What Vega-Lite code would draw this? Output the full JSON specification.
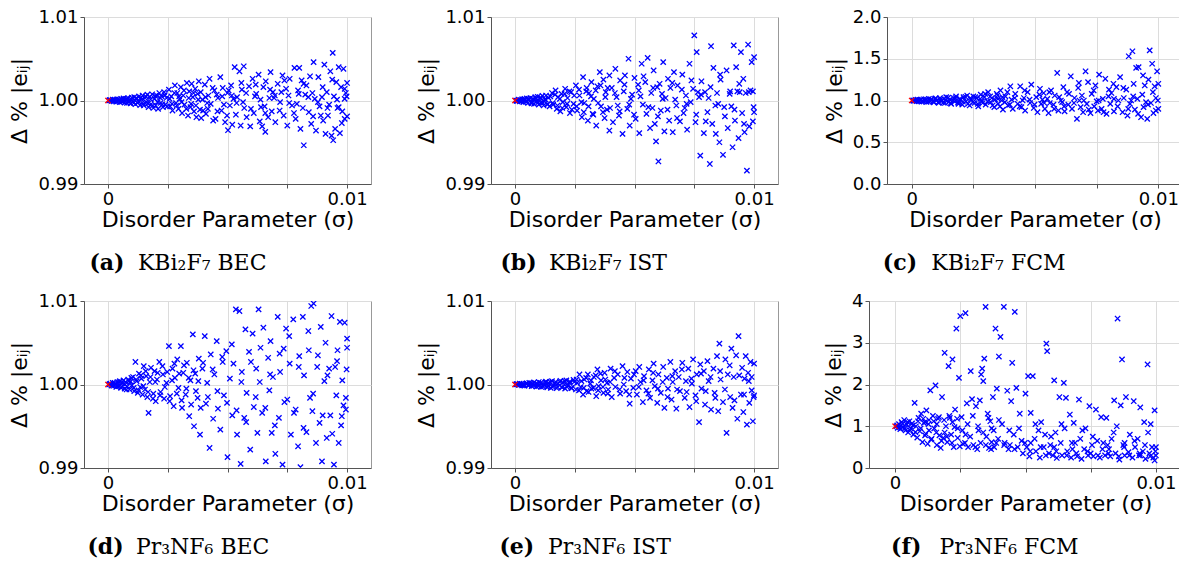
{
"$schema":"https://vega.github.io/schema/vega-lite/v6.json",
"padding":{"left":8,"top":7,"right":0,"bottom":0},
"background":"white",
"config":{
"view":{"stroke":"#999","strokeWidth":1},
"axis":{"labelFont":"DejaVu Sans","labelFontSize":18,"labelColor":"#000","titleFont":"DejaVu Sans","titleFontSize":22,"titleFontWeight":"normal","titleColor":"#000","tickColor":"#555","tickSize":4,"domainColor":"#555","gridColor":"#dcdcdc","labelPadding":2,"grid":true},
"axisX":{"titlePadding":1},
"axisY":{"titlePadding":6},
"title":{"font":"DejaVu Serif","fontSize":22,"fontWeight":"normal","color":"#000","orient":"bottom"}
},
"datasets":{
"ref":[{"x":0,"y":1}],
"a":[{"x":0.00005,"y":1},{"x":0.0001,"y":1.00005},{"x":0.00015,"y":0.99995},{"x":0.0002,"y":1.0001},{"x":0.00025,"y":0.9999},{"x":0.0003,"y":1.00005},{"x":0.00035,"y":0.99985},{"x":0.0004,"y":1.00015},{"x":0.00045,"y":1},{"x":0.0005,"y":0.9998},{"x":0.00055,"y":1.0002},{"x":0.0006,"y":0.9999},{"x":0.00065,"y":1.00025},{"x":0.0007,"y":0.99975},{"x":0.00075,"y":1.0001},{"x":0.0008,"y":0.9997},{"x":0.00085,"y":1.0003},{"x":0.0009,"y":1},{"x":0.00095,"y":0.99965},{"x":0.001,"y":1.00035},{"x":0.00105,"y":0.99985},{"x":0.0011,"y":1.0004},{"x":0.00115,"y":0.99955},{"x":0.0012,"y":1.0002},{"x":0.00125,"y":0.9997},{"x":0.0013,"y":1.0005},{"x":0.00135,"y":0.99945},{"x":0.0014,"y":1.0001},{"x":0.00145,"y":1.0006},{"x":0.0015,"y":0.9994},{"x":0.00155,"y":1.0003},{"x":0.0016,"y":0.9998},{"x":0.00165,"y":1.0007},{"x":0.0017,"y":0.9992},{"x":0.00175,"y":1.00045},{"x":0.0018,"y":0.99955},{"x":0.00185,"y":1.00075},{"x":0.0019,"y":0.9991},{"x":0.00195,"y":1.0002},{"x":0.002,"y":0.9994},{"x":0.00205,"y":1.0006},{"x":0.0021,"y":0.999},{"x":0.00215,"y":1.0009},{"x":0.0022,"y":0.9997},{"x":0.00225,"y":1.0005},{"x":0.0023,"y":0.9992},{"x":0.00235,"y":1.001},{"x":0.0024,"y":0.9995},{"x":0.00245,"y":1.0003},{"x":0.00255,"y":1.0013},{"x":0.0026,"y":0.9993},{"x":0.00265,"y":1.0005},{"x":0.0027,"y":0.9988},{"x":0.0028,"y":1.0018},{"x":0.00285,"y":0.9997},{"x":0.0029,"y":1.0009},{"x":0.00295,"y":0.999},{"x":0.003,"y":1.0002},{"x":0.00305,"y":1.0016},{"x":0.0031,"y":0.9985},{"x":0.00315,"y":1.0006},{"x":0.0032,"y":0.9995},{"x":0.0033,"y":1.0021},{"x":0.00335,"y":0.9982},{"x":0.0034,"y":1.0011},{"x":0.00345,"y":0.9992},{"x":0.0035,"y":1.002},{"x":0.00355,"y":1.0004},{"x":0.0036,"y":0.9987},{"x":0.00365,"y":1.0014},{"x":0.0037,"y":0.998},{"x":0.00375,"y":1.0008},{"x":0.0038,"y":1.0023},{"x":0.00385,"y":0.9989},{"x":0.0039,"y":0.9979},{"x":0.00395,"y":1.0001},{"x":0.00405,"y":1.0019},{"x":0.0041,"y":0.9984},{"x":0.0042,"y":1.0006},{"x":0.00425,"y":1.0026},{"x":0.0043,"y":0.9996},{"x":0.0044,"y":0.9976},{"x":0.00445,"y":1.0012},{"x":0.0045,"y":0.9978},{"x":0.0046,"y":1.0003},{"x":0.0047,"y":1.0028},{"x":0.00475,"y":0.9988},{"x":0.0048,"y":1.0015},{"x":0.0049,"y":0.9974},{"x":0.005,"y":1.0009},{"x":0.00502,"y":0.99644},{"x":0.00505,"y":1.0012},{"x":0.0051,"y":0.9994},{"x":0.00515,"y":1.0018},{"x":0.0052,"y":0.9971},{"x":0.0053,"y":1.004},{"x":0.00535,"y":0.9983},{"x":0.0054,"y":1.0004},{"x":0.0055,"y":1.0035},{"x":0.00555,"y":0.997},{"x":0.0056,"y":1.0013},{"x":0.00568,"y":1.0041},{"x":0.0057,"y":0.9991},{"x":0.0058,"y":0.998},{"x":0.0059,"y":1.0017},{"x":0.00595,"y":0.9969},{"x":0.00605,"y":1.0026},{"x":0.0061,"y":0.9985},{"x":0.0062,"y":1.0008},{"x":0.0063,"y":1.0031},{"x":0.00635,"y":0.9975},{"x":0.00645,"y":0.9969},{"x":0.0065,"y":1.0016},{"x":0.00655,"y":0.9993},{"x":0.00658,"y":0.99624},{"x":0.0066,"y":1.0023},{"x":0.0067,"y":0.998},{"x":0.00675,"y":1.0003},{"x":0.0068,"y":1.0034},{"x":0.00685,"y":0.9987},{"x":0.0069,"y":1.001},{"x":0.007,"y":0.9974},{"x":0.0071,"y":1.002},{"x":0.0072,"y":0.9998},{"x":0.0073,"y":1.003},{"x":0.00735,"y":0.9982},{"x":0.00745,"y":1.0014},{"x":0.0075,"y":0.997},{"x":0.0076,"y":1.0026},{"x":0.0077,"y":0.9994},{"x":0.0078,"y":1.0039},{"x":0.00785,"y":0.9978},{"x":0.00795,"y":1.0012},{"x":0.008,"y":1.0039},{"x":0.00805,"y":0.9966},{"x":0.0081,"y":1.0024},{"x":0.00819,"y":0.99464},{"x":0.00825,"y":1.0007},{"x":0.0083,"y":1.0018},{"x":0.0084,"y":0.9986},{"x":0.00845,"y":1.0029},{"x":0.0085,"y":0.9972},{"x":0.0086,"y":1.0046},{"x":0.00865,"y":1.0002},{"x":0.0087,"y":0.9964},{"x":0.0088,"y":1.0028},{"x":0.00885,"y":0.9993},{"x":0.0089,"y":0.9982},{"x":0.009,"y":0.9976},{"x":0.00905,"y":1.0043},{"x":0.0091,"y":0.996},{"x":0.00915,"y":1.001},{"x":0.0092,"y":0.9982},{"x":0.0093,"y":1.0035},{"x":0.00935,"y":0.9958},{"x":0.0094,"y":1.0057},{"x":0.00942,"y":0.99524},{"x":0.00945,"y":1.0005},{"x":0.0095,"y":0.9966},{"x":0.00955,"y":1.0022},{"x":0.0096,"y":0.9991},{"x":0.00965,"y":1.004},{"x":0.0097,"y":0.9961},{"x":0.00975,"y":1.0016},{"x":0.0098,"y":0.9987},{"x":0.00985,"y":1.0038},{"x":0.0099,"y":0.9978},{"x":0.00995,"y":1.0009},{"x":0.01,"y":0.9981},{"x":0.01,"y":1.0021},{"x":0.0099,"y":1.0014},{"x":0.00415,"y":0.9997},{"x":0.00455,"y":1.0007},{"x":0.00485,"y":0.9995},{"x":0.00525,"y":1.0002},{"x":0.00565,"y":0.9998},{"x":0.00615,"y":1.0005},{"x":0.0064,"y":0.9992},{"x":0.00695,"y":1.0003},{"x":0.00725,"y":1.001},{"x":0.00755,"y":1.0006},{"x":0.0079,"y":0.9996},{"x":0.00815,"y":0.9991},{"x":0.00855,"y":1.0009},{"x":0.00895,"y":1.0004},{"x":0.00925,"y":0.9995},{"x":0.00965,"y":0.9992},{"x":0.0099,"y":1.0002},{"x":0.00008,"y":1.00005},{"x":0.00018,"y":0.99995},{"x":0.00028,"y":1.0001},{"x":0.00038,"y":0.9999},{"x":0.00048,"y":1.00012},{"x":0.00058,"y":0.99985},{"x":0.00068,"y":1.00005},{"x":0.00078,"y":1.0002},{"x":0.00088,"y":0.9998},{"x":0.00098,"y":1.0001},{"x":0.00108,"y":0.9997},{"x":0.00118,"y":1.0003},{"x":0.00128,"y":0.9999},{"x":0.00138,"y":1.00035},{"x":0.00148,"y":0.9996},{"x":0.00158,"y":1.0005},{"x":0.00168,"y":0.99965},{"x":0.00178,"y":1.00015},{"x":0.00188,"y":0.9994},{"x":0.00198,"y":1.00055},{"x":0.00208,"y":0.9998},{"x":0.00218,"y":1.00035},{"x":0.00228,"y":0.99955},{"x":0.00238,"y":1.00065},{"x":0.00248,"y":0.9993},{"x":0.00258,"y":1.0002},{"x":0.00268,"y":0.9996},{"x":0.00278,"y":1.0009},{"x":0.00288,"y":0.9994},{"x":0.00298,"y":1.0005},{"x":0.00308,"y":0.9998},{"x":0.00318,"y":1.0012},{"x":0.00328,"y":0.999},{"x":0.00338,"y":1.0003},{"x":0.00348,"y":0.9996},{"x":0.00358,"y":1.0009},{"x":0.00368,"y":0.9994},{"x":0.00378,"y":1.0001},{"x":0.00388,"y":1.001},{"x":0.00398,"y":0.9988},{"x":0.00408,"y":1.0004},{"x":0.00418,"y":0.999},{"x":0.00438,"y":1.0015},{"x":0.00458,"y":0.9987},{"x":0.00478,"y":1.0005},{"x":0.00498,"y":0.9982},{"x":0.00518,"y":1.0006},{"x":0.00538,"y":0.9997},{"x":0.00558,"y":1.0021},{"x":0.00578,"y":1.0009},{"x":0.00598,"y":0.999},{"x":0.00618,"y":1.0019},{"x":0.00638,"y":1.0001},{"x":0.00658,"y":0.9985},{"x":0.00678,"y":1.0013},{"x":0.00698,"y":1.0006},{"x":0.00718,"y":0.9988},{"x":0.00738,"y":1.0024},{"x":0.00758,"y":0.9997},{"x":0.00778,"y":0.9985},{"x":0.00798,"y":1.0008},{"x":0.00818,"y":1.002},{"x":0.00838,"y":1.0004},{"x":0.00858,"y":0.9981},{"x":0.00878,"y":0.9998},{"x":0.00898,"y":1.0016},{"x":0.00918,"y":0.9991},{"x":0.00938,"y":1.0025},{"x":0.00958,"y":1.0001},{"x":0.00978,"y":0.9973},{"x":0.00998,"y":1.0005}],
"b":[{"x":0.00005,"y":1},{"x":0.0001,"y":0.99995},{"x":0.00015,"y":1.0001},{"x":0.0002,"y":0.9999},{"x":0.00025,"y":1.00005},{"x":0.0003,"y":1.00015},{"x":0.00035,"y":0.9998},{"x":0.0004,"y":1.0002},{"x":0.00045,"y":0.99985},{"x":0.0005,"y":1.00025},{"x":0.00055,"y":0.9997},{"x":0.0006,"y":1.0001},{"x":0.00065,"y":1.0003},{"x":0.0007,"y":0.99965},{"x":0.00075,"y":1.0002},{"x":0.0008,"y":0.9996},{"x":0.00085,"y":1.0004},{"x":0.0009,"y":0.9999},{"x":0.00095,"y":1.00045},{"x":0.001,"y":0.9995},{"x":0.00105,"y":1.0003},{"x":0.0011,"y":0.99975},{"x":0.00115,"y":1.00055},{"x":0.0012,"y":0.9994},{"x":0.00125,"y":1.00015},{"x":0.0013,"y":1.0006},{"x":0.00135,"y":0.99955},{"x":0.0014,"y":1.00035},{"x":0.00145,"y":0.9993},{"x":0.00155,"y":1.0009},{"x":0.0016,"y":0.9995},{"x":0.0017,"y":1.0012},{"x":0.00175,"y":0.999},{"x":0.0018,"y":1.0004},{"x":0.0019,"y":0.9987},{"x":0.00195,"y":1.0008},{"x":0.002,"y":0.9998},{"x":0.0021,"y":1.0014},{"x":0.00215,"y":0.9992},{"x":0.0022,"y":1.0003},{"x":0.0023,"y":0.9985},{"x":0.00235,"y":1.001},{"x":0.00245,"y":0.9996},{"x":0.00255,"y":1.0018},{"x":0.0026,"y":0.9988},{"x":0.0027,"y":1.0006},{"x":0.0028,"y":0.998},{"x":0.00285,"y":1.0028},{"x":0.0029,"y":0.9997},{"x":0.003,"y":1.0015},{"x":0.00305,"y":0.9976},{"x":0.0031,"y":1.0009},{"x":0.0032,"y":1.0022},{"x":0.00325,"y":0.9984},{"x":0.0033,"y":1.0002},{"x":0.0034,"y":0.997},{"x":0.00345,"y":1.0017},{"x":0.00355,"y":1.0034},{"x":0.0036,"y":0.9993},{"x":0.0037,"y":1.0025},{"x":0.00375,"y":0.9979},{"x":0.0038,"y":1.001},{"x":0.00385,"y":0.9989},{"x":0.00395,"y":0.9964},{"x":0.00395,"y":1.003},{"x":0.00405,"y":1.0015},{"x":0.0041,"y":0.9974},{"x":0.0042,"y":1.0038},{"x":0.00425,"y":1.0004},{"x":0.00435,"y":0.9982},{"x":0.0044,"y":1.0024},{"x":0.0045,"y":0.996},{"x":0.00455,"y":1.0011},{"x":0.0046,"y":1.003},{"x":0.0047,"y":0.999},{"x":0.00475,"y":1.005},{"x":0.0048,"y":0.997},{"x":0.0049,"y":1.0007},{"x":0.005,"y":1.0027},{"x":0.00505,"y":0.9978},{"x":0.00515,"y":1.0019},{"x":0.0052,"y":0.9961},{"x":0.0053,"y":1.0044},{"x":0.00535,"y":0.9995},{"x":0.00545,"y":1.0022},{"x":0.0055,"y":0.9984},{"x":0.00555,"y":1.0051},{"x":0.00565,"y":0.9967},{"x":0.0057,"y":1.0009},{"x":0.0058,"y":1.0036},{"x":0.00585,"y":0.9972},{"x":0.0059,"y":0.9951},{"x":0.00595,"y":1.0016},{"x":0.006,"y":0.9927},{"x":0.00605,"y":1.002},{"x":0.0061,"y":0.9988},{"x":0.0062,"y":1.0046},{"x":0.00625,"y":0.9963},{"x":0.0063,"y":1.0003},{"x":0.0064,"y":1.0026},{"x":0.00645,"y":0.9976},{"x":0.0065,"y":1.0015},{"x":0.0066,"y":0.9962},{"x":0.00665,"y":1.0034},{"x":0.00675,"y":0.9994},{"x":0.0068,"y":1.0018},{"x":0.0069,"y":0.9975},{"x":0.007,"y":1.0031},{"x":0.00705,"y":0.9985},{"x":0.00715,"y":1.0006},{"x":0.0072,"y":0.9965},{"x":0.0073,"y":1.0044},{"x":0.00735,"y":0.9998},{"x":0.00745,"y":1.0014},{"x":0.0075,"y":1.0078},{"x":0.00755,"y":0.9974},{"x":0.0076,"y":1.0058},{"x":0.0077,"y":1.0004},{"x":0.00775,"y":0.9934},{"x":0.0078,"y":1.0023},{"x":0.0079,"y":0.9961},{"x":0.00795,"y":1.001},{"x":0.00805,"y":0.9986},{"x":0.00815,"y":0.9924},{"x":0.0082,"y":1.0065},{"x":0.00825,"y":0.9972},{"x":0.0083,"y":1.0039},{"x":0.0084,"y":0.996},{"x":0.00845,"y":1.0009},{"x":0.00855,"y":0.995},{"x":0.0086,"y":1.0025},{"x":0.0087,"y":0.9935},{"x":0.00875,"y":0.9992},{"x":0.00885,"y":1.0036},{"x":0.0089,"y":0.9967},{"x":0.009,"y":1.0011},{"x":0.0091,"y":0.9944},{"x":0.00915,"y":1.0066},{"x":0.0092,"y":0.9976},{"x":0.00925,"y":1.004},{"x":0.0093,"y":1.0011},{"x":0.00935,"y":0.9955},{"x":0.00945,"y":1.0058},{"x":0.0095,"y":0.9985},{"x":0.00955,"y":1.0026},{"x":0.0096,"y":0.9962},{"x":0.0097,"y":0.9916},{"x":0.00975,"y":1.0067},{"x":0.0098,"y":0.9969},{"x":0.00985,"y":1.0012},{"x":0.0099,"y":1.0046},{"x":0.00995,"y":0.9975},{"x":0.01,"y":1.0052},{"x":0.01,"y":0.9986},{"x":0.00995,"y":1.0011},{"x":0.0043,"y":0.9994},{"x":0.00485,"y":1.0002},{"x":0.00525,"y":1.0005},{"x":0.00575,"y":0.9991},{"x":0.00615,"y":1.0008},{"x":0.0067,"y":1.0001},{"x":0.0071,"y":0.9991},{"x":0.00765,"y":1.001},{"x":0.0081,"y":1.0003},{"x":0.0085,"y":0.9996},{"x":0.00905,"y":0.9993},{"x":0.0094,"y":1.001},{"x":0.00965,"y":1.0009},{"x":0.00008,"y":0.99995},{"x":0.00018,"y":1.00005},{"x":0.00028,"y":0.9999},{"x":0.00038,"y":1.0001},{"x":0.00048,"y":0.99985},{"x":0.00058,"y":1.0002},{"x":0.00068,"y":0.99975},{"x":0.00078,"y":1.0001},{"x":0.00088,"y":1.00025},{"x":0.00098,"y":0.9998},{"x":0.00108,"y":1.00035},{"x":0.00118,"y":0.9997},{"x":0.00128,"y":1.0001},{"x":0.00138,"y":0.99955},{"x":0.00148,"y":1.0005},{"x":0.00158,"y":0.9997},{"x":0.00168,"y":1.0007},{"x":0.00178,"y":0.9994},{"x":0.00188,"y":1.0002},{"x":0.00198,"y":0.9991},{"x":0.00208,"y":1.0008},{"x":0.00218,"y":0.9996},{"x":0.00228,"y":1.0011},{"x":0.00238,"y":0.9989},{"x":0.00248,"y":1.0006},{"x":0.00258,"y":0.9993},{"x":0.00268,"y":1.0013},{"x":0.00278,"y":0.9998},{"x":0.00288,"y":0.9986},{"x":0.00298,"y":1.0011},{"x":0.00308,"y":0.9993},{"x":0.00318,"y":1.0005},{"x":0.00328,"y":0.9983},{"x":0.00338,"y":1.0012},{"x":0.00348,"y":0.9997},{"x":0.00358,"y":1.0018},{"x":0.00368,"y":0.9986},{"x":0.00378,"y":1.0004},{"x":0.00388,"y":1.0015},{"x":0.00398,"y":0.9991},{"x":0.00418,"y":1.0009},{"x":0.00438,"y":0.9987},{"x":0.00458,"y":1.0019},{"x":0.00478,"y":0.9995},{"x":0.00498,"y":0.9983},{"x":0.00518,"y":1.0012},{"x":0.00538,"y":1.0029},{"x":0.00558,"y":0.9992},{"x":0.00578,"y":1.0015},{"x":0.00598,"y":0.9981},{"x":0.00618,"y":1.0002},{"x":0.00638,"y":0.9989},{"x":0.00658,"y":1.0021},{"x":0.00678,"y":0.9979},{"x":0.00698,"y":1.0013},{"x":0.00718,"y":0.9996},{"x":0.00738,"y":1.0024},{"x":0.00758,"y":0.9983},{"x":0.00778,"y":1.0007},{"x":0.00798,"y":0.9975},{"x":0.00818,"y":1.0016},{"x":0.00838,"y":0.9994},{"x":0.00858,"y":1.0031},{"x":0.00878,"y":0.9981},{"x":0.00898,"y":1.0008},{"x":0.00918,"y":0.9989},{"x":0.00938,"y":1.002},{"x":0.00958,"y":0.9972},{"x":0.00978,"y":1.001},{"x":0.00998,"y":0.9992}],
"c":[{"x":0.00005,"y":1.0},{"x":0.0001,"y":0.996},{"x":0.00015,"y":1.005},{"x":0.0002,"y":0.993},{"x":0.00025,"y":1.01},{"x":0.0003,"y":0.99},{"x":0.00035,"y":1.008},{"x":0.0004,"y":0.985},{"x":0.0005,"y":1.015},{"x":0.00055,"y":1.0},{"x":0.0006,"y":0.982},{"x":0.0007,"y":1.02},{"x":0.00075,"y":0.99},{"x":0.0008,"y":1.01},{"x":0.0009,"y":0.978},{"x":0.00095,"y":1.022},{"x":0.001,"y":1.0},{"x":0.0011,"y":0.972},{"x":0.00115,"y":1.03},{"x":0.0012,"y":0.99},{"x":0.0013,"y":1.02},{"x":0.00135,"y":0.97},{"x":0.0014,"y":1.04},{"x":0.0015,"y":0.98},{"x":0.00155,"y":1.01},{"x":0.0016,"y":0.96},{"x":0.0017,"y":1.03},{"x":0.00175,"y":0.99},{"x":0.0018,"y":1.05},{"x":0.0019,"y":0.96},{"x":0.00195,"y":1.02},{"x":0.00205,"y":0.95},{"x":0.0021,"y":1.04},{"x":0.0022,"y":0.99},{"x":0.00225,"y":1.06},{"x":0.00235,"y":0.94},{"x":0.0024,"y":1.01},{"x":0.0025,"y":1.05},{"x":0.00255,"y":0.97},{"x":0.00265,"y":1.03},{"x":0.0027,"y":0.93},{"x":0.0028,"y":1.07},{"x":0.00285,"y":0.99},{"x":0.00295,"y":1.04},{"x":0.003,"y":0.95},{"x":0.0031,"y":1.1},{"x":0.0032,"y":0.98},{"x":0.00325,"y":1.03},{"x":0.00335,"y":0.92},{"x":0.00345,"y":1.08},{"x":0.0035,"y":0.96},{"x":0.0036,"y":1.12},{"x":0.00365,"y":1.0},{"x":0.0037,"y":0.89},{"x":0.0038,"y":1.05},{"x":0.0039,"y":0.94},{"x":0.004,"y":1.17},{"x":0.00405,"y":1.01},{"x":0.0041,"y":0.9},{"x":0.0042,"y":1.08},{"x":0.0043,"y":0.96},{"x":0.0044,"y":1.17},{"x":0.00445,"y":0.92},{"x":0.00455,"y":1.03},{"x":0.0046,"y":0.88},{"x":0.0047,"y":1.1},{"x":0.0048,"y":0.97},{"x":0.00485,"y":1.19},{"x":0.00495,"y":0.91},{"x":0.00505,"y":1.04},{"x":0.0051,"y":0.86},{"x":0.0052,"y":1.14},{"x":0.00525,"y":0.96},{"x":0.00535,"y":1.09},{"x":0.0054,"y":0.9},{"x":0.0055,"y":1.02},{"x":0.00555,"y":0.85},{"x":0.00565,"y":1.12},{"x":0.00575,"y":0.95},{"x":0.0058,"y":1.06},{"x":0.0059,"y":1.33},{"x":0.00595,"y":0.88},{"x":0.00605,"y":1.0},{"x":0.00615,"y":1.16},{"x":0.0062,"y":0.87},{"x":0.0063,"y":1.1},{"x":0.00635,"y":0.95},{"x":0.00645,"y":1.29},{"x":0.0065,"y":0.9},{"x":0.0066,"y":1.03},{"x":0.0067,"y":0.78},{"x":0.00675,"y":1.15},{"x":0.00685,"y":0.92},{"x":0.0069,"y":1.06},{"x":0.00695,"y":0.86},{"x":0.00705,"y":1.35},{"x":0.0071,"y":0.96},{"x":0.00715,"y":1.22},{"x":0.00725,"y":0.85},{"x":0.0073,"y":1.08},{"x":0.0074,"y":0.93},{"x":0.00745,"y":1.18},{"x":0.00755,"y":0.88},{"x":0.0076,"y":1.31},{"x":0.0077,"y":0.9},{"x":0.00775,"y":1.02},{"x":0.00785,"y":1.26},{"x":0.0079,"y":0.84},{"x":0.008,"y":1.13},{"x":0.00805,"y":0.96},{"x":0.0081,"y":1.09},{"x":0.0082,"y":0.87},{"x":0.0083,"y":1.16},{"x":0.00835,"y":0.93},{"x":0.00845,"y":1.28},{"x":0.00855,"y":0.86},{"x":0.0086,"y":1.03},{"x":0.0087,"y":1.13},{"x":0.00875,"y":0.82},{"x":0.0088,"y":1.53},{"x":0.00885,"y":0.96},{"x":0.00895,"y":1.59},{"x":0.009,"y":1.2},{"x":0.00905,"y":0.89},{"x":0.0091,"y":1.39},{"x":0.00915,"y":1.02},{"x":0.0092,"y":1.4},{"x":0.0093,"y":0.8},{"x":0.00935,"y":1.07},{"x":0.0094,"y":0.92},{"x":0.00945,"y":1.18},{"x":0.00955,"y":0.78},{"x":0.0096,"y":1.25},{"x":0.00965,"y":1.6},{"x":0.0097,"y":0.97},{"x":0.00975,"y":1.44},{"x":0.0098,"y":0.85},{"x":0.00985,"y":1.17},{"x":0.0099,"y":1.03},{"x":0.00995,"y":1.35},{"x":0.01,"y":0.9},{"x":0.01,"y":1.2},{"x":0.0099,"y":0.88},{"x":0.0045,"y":1.0},{"x":0.0053,"y":1.01},{"x":0.0061,"y":0.98},{"x":0.0068,"y":1.0},{"x":0.0075,"y":0.99},{"x":0.0082,"y":1.02},{"x":0.0089,"y":1.0},{"x":0.0095,"y":0.98},{"x":0.0035,"y":1.02},{"x":0.0056,"y":0.97},{"x":0.00008,"y":1.0},{"x":0.00018,"y":1.008},{"x":0.00028,"y":0.994},{"x":0.00038,"y":1.012},{"x":0.00048,"y":0.99},{"x":0.00058,"y":1.015},{"x":0.00068,"y":0.985},{"x":0.00078,"y":1.01},{"x":0.00088,"y":0.99},{"x":0.00098,"y":1.025},{"x":0.00108,"y":0.98},{"x":0.00118,"y":1.015},{"x":0.00128,"y":0.975},{"x":0.00138,"y":1.005},{"x":0.00148,"y":1.035},{"x":0.00158,"y":0.97},{"x":0.00168,"y":1.0},{"x":0.00178,"y":1.03},{"x":0.00188,"y":0.975},{"x":0.00198,"y":1.01},{"x":0.00208,"y":0.985},{"x":0.00218,"y":1.045},{"x":0.00228,"y":0.96},{"x":0.00238,"y":1.03},{"x":0.00248,"y":0.98},{"x":0.00258,"y":1.04},{"x":0.00268,"y":0.96},{"x":0.00278,"y":1.02},{"x":0.00288,"y":0.97},{"x":0.00298,"y":1.08},{"x":0.00308,"y":0.99},{"x":0.00318,"y":1.05},{"x":0.00328,"y":0.94},{"x":0.00338,"y":1.01},{"x":0.00348,"y":1.06},{"x":0.00358,"y":0.93},{"x":0.00368,"y":1.04},{"x":0.00378,"y":0.98},{"x":0.00388,"y":1.1},{"x":0.00398,"y":0.95},{"x":0.00418,"y":1.03},{"x":0.00438,"y":0.93},{"x":0.00458,"y":1.12},{"x":0.00478,"y":1.01},{"x":0.00498,"y":0.95},{"x":0.00518,"y":1.07},{"x":0.00538,"y":0.97},{"x":0.00558,"y":1.1},{"x":0.00578,"y":0.9},{"x":0.00598,"y":1.04},{"x":0.00618,"y":0.93},{"x":0.00638,"y":1.08},{"x":0.00658,"y":0.97},{"x":0.00678,"y":1.21},{"x":0.00698,"y":1.0},{"x":0.00718,"y":0.89},{"x":0.00738,"y":1.12},{"x":0.00758,"y":1.0},{"x":0.00778,"y":0.86},{"x":0.00798,"y":1.05},{"x":0.00818,"y":1.2},{"x":0.00838,"y":1.0},{"x":0.00858,"y":1.15},{"x":0.00878,"y":0.9},{"x":0.00898,"y":1.05},{"x":0.00918,"y":0.84},{"x":0.00938,"y":1.3},{"x":0.00958,"y":0.95},{"x":0.00978,"y":1.1},{"x":0.00998,"y":1.0}],
"d":[{"x":0.00005,"y":1},{"x":0.0001,"y":1.0001},{"x":0.00015,"y":0.9999},{"x":0.0002,"y":1.0002},{"x":0.00025,"y":0.99985},{"x":0.0003,"y":1.00005},{"x":0.00035,"y":0.9997},{"x":0.0004,"y":1.0003},{"x":0.00045,"y":0.9998},{"x":0.0005,"y":1.0004},{"x":0.00055,"y":0.9996},{"x":0.0006,"y":1.00015},{"x":0.00065,"y":1.0005},{"x":0.0007,"y":0.9995},{"x":0.00075,"y":1.00025},{"x":0.0008,"y":0.99975},{"x":0.00085,"y":1.0006},{"x":0.0009,"y":0.9994},{"x":0.00095,"y":1.00035},{"x":0.001,"y":0.9999},{"x":0.00105,"y":1.0009},{"x":0.0011,"y":0.9992},{"x":0.00115,"y":1.0027},{"x":0.0012,"y":1.0004},{"x":0.00125,"y":0.999},{"x":0.0013,"y":1.0013},{"x":0.00135,"y":0.9997},{"x":0.0014,"y":1.0007},{"x":0.00145,"y":0.9988},{"x":0.0015,"y":1.0022},{"x":0.00155,"y":0.9994},{"x":0.0016,"y":1.001},{"x":0.00165,"y":0.9985},{"x":0.0017,"y":0.9966},{"x":0.00175,"y":1.0003},{"x":0.0018,"y":1.002},{"x":0.0019,"y":0.9989},{"x":0.00195,"y":1.0016},{"x":0.002,"y":0.998},{"x":0.00205,"y":1.0006},{"x":0.00215,"y":1.0027},{"x":0.0022,"y":0.9991},{"x":0.0023,"y":1.0012},{"x":0.00235,"y":0.9983},{"x":0.00245,"y":1.0002},{"x":0.00255,"y":1.0046},{"x":0.0026,"y":0.9986},{"x":0.0027,"y":1.0019},{"x":0.00275,"y":0.9974},{"x":0.0028,"y":1.0008},{"x":0.0029,"y":1.003},{"x":0.00295,"y":0.9996},{"x":0.00305,"y":1.0046},{"x":0.0031,"y":0.9972},{"x":0.00315,"y":1.0014},{"x":0.00325,"y":0.9988},{"x":0.0033,"y":1.0026},{"x":0.0034,"y":0.9962},{"x":0.00345,"y":1.0005},{"x":0.00355,"y":1.006},{"x":0.0036,"y":0.995},{"x":0.00365,"y":1.0013},{"x":0.00375,"y":0.9984},{"x":0.0038,"y":1.0031},{"x":0.00385,"y":0.994},{"x":0.00395,"y":1.0019},{"x":0.00405,"y":1.0058},{"x":0.0041,"y":0.9977},{"x":0.00415,"y":1.0002},{"x":0.00425,"y":0.9924},{"x":0.0043,"y":1.0036},{"x":0.0044,"y":0.9959},{"x":0.00445,"y":1.0012},{"x":0.00455,"y":1.0052},{"x":0.0046,"y":0.9971},{"x":0.0047,"y":0.9946},{"x":0.0048,"y":1.0027},{"x":0.00485,"y":0.9987},{"x":0.00495,"y":1.004},{"x":0.005,"y":0.9913},{"x":0.0051,"y":1.0007},{"x":0.0052,"y":0.9963},{"x":0.00525,"y":1.0025},{"x":0.00535,"y":1.009},{"x":0.0054,"y":0.994},{"x":0.0055,"y":1.0088},{"x":0.00555,"y":0.9905},{"x":0.0056,"y":1.0015},{"x":0.0057,"y":0.996},{"x":0.00575,"y":1.0066},{"x":0.0058,"y":0.999},{"x":0.0059,"y":1.0039},{"x":0.00595,"y":0.9922},{"x":0.00605,"y":1.0061},{"x":0.0061,"y":0.9973},{"x":0.0062,"y":1.0019},{"x":0.00625,"y":0.9942},{"x":0.0063,"y":1.009},{"x":0.00635,"y":1.0003},{"x":0.00645,"y":0.9966},{"x":0.0065,"y":1.0068},{"x":0.0066,"y":0.9908},{"x":0.0067,"y":1.0032},{"x":0.00675,"y":0.9993},{"x":0.0068,"y":1.0052},{"x":0.00685,"y":0.9942},{"x":0.0069,"y":1.0009},{"x":0.007,"y":0.9917},{"x":0.0071,"y":1.0081},{"x":0.00715,"y":0.996},{"x":0.0072,"y":1.0015},{"x":0.0073,"y":0.9904},{"x":0.00735,"y":1.0043},{"x":0.00745,"y":1.0067},{"x":0.0075,"y":0.9982},{"x":0.0076,"y":1.0025},{"x":0.00765,"y":0.994},{"x":0.00775,"y":1.0078},{"x":0.00785,"y":0.997},{"x":0.00795,"y":0.9926},{"x":0.008,"y":1.0034},{"x":0.00805,"y":0.9901},{"x":0.00815,"y":1.0081},{"x":0.0082,"y":1.0011},{"x":0.0083,"y":0.9943},{"x":0.0084,"y":1.0041},{"x":0.00845,"y":0.9984},{"x":0.0085,"y":1.0094},{"x":0.00855,"y":0.9968},{"x":0.0086,"y":1.0097},{"x":0.0087,"y":0.993},{"x":0.00875,"y":1.0021},{"x":0.00885,"y":0.9954},{"x":0.0089,"y":1.0069},{"x":0.00895,"y":0.9908},{"x":0.00905,"y":1.0004},{"x":0.0091,"y":1.005},{"x":0.00915,"y":0.9936},{"x":0.00925,"y":1.0019},{"x":0.0093,"y":0.9963},{"x":0.00935,"y":1.0082},{"x":0.00945,"y":0.9904},{"x":0.0095,"y":1.0021},{"x":0.00955,"y":0.9987},{"x":0.0096,"y":1.0041},{"x":0.00965,"y":0.993},{"x":0.0097,"y":1.0075},{"x":0.00975,"y":0.9951},{"x":0.0098,"y":1.0005},{"x":0.00985,"y":0.9975},{"x":0.0099,"y":1.0074},{"x":0.00995,"y":0.997},{"x":0.01,"y":1.0055},{"x":0.01,"y":1.0044},{"x":0.00995,"y":0.9984},{"x":0.00008,"y":1.00005},{"x":0.00018,"y":0.99985},{"x":0.00028,"y":1.0002},{"x":0.00038,"y":0.9998},{"x":0.00048,"y":1.0003},{"x":0.00058,"y":0.9997},{"x":0.00068,"y":1.0001},{"x":0.00078,"y":0.9994},{"x":0.00088,"y":1.0004},{"x":0.00098,"y":1.0008},{"x":0.00108,"y":0.9996},{"x":0.00118,"y":1.0006},{"x":0.00128,"y":0.9993},{"x":0.00138,"y":1.0011},{"x":0.00148,"y":0.9998},{"x":0.00158,"y":1.0016},{"x":0.00168,"y":0.9991},{"x":0.00178,"y":1.0009},{"x":0.00188,"y":0.9983},{"x":0.00198,"y":1.0003},{"x":0.00208,"y":1.0014},{"x":0.00218,"y":0.9987},{"x":0.00228,"y":1.0022},{"x":0.00238,"y":0.9997},{"x":0.00248,"y":1.0015},{"x":0.00258,"y":0.998},{"x":0.00268,"y":1.0005},{"x":0.00278,"y":1.0025},{"x":0.00288,"y":0.9989},{"x":0.00298,"y":1.0013},{"x":0.00308,"y":0.9981},{"x":0.00318,"y":1.0023},{"x":0.00328,"y":0.9995},{"x":0.00338,"y":1.0008},{"x":0.00348,"y":0.9976},{"x":0.00358,"y":1.0017},{"x":0.00368,"y":0.9992},{"x":0.00378,"y":1.0004},{"x":0.00388,"y":0.9972},{"x":0.00398,"y":1.0026},{"x":0.00418,"y":0.9985},{"x":0.00438,"y":1.0018},{"x":0.00458,"y":0.9992},{"x":0.00478,"y":1.0033},{"x":0.00498,"y":0.9978},{"x":0.00518,"y":1.0048},{"x":0.00538,"y":0.9969},{"x":0.00558,"y":1.0003},{"x":0.00578,"y":0.9955},{"x":0.00598,"y":1.0027},{"x":0.00618,"y":0.9985},{"x":0.00638,"y":1.0044},{"x":0.00658,"y":0.9972},{"x":0.00678,"y":1.0012},{"x":0.00698,"y":0.9951},{"x":0.00718,"y":1.0037},{"x":0.00738,"y":0.9979},{"x":0.00758,"y":1.0058},{"x":0.00778,"y":0.9966},{"x":0.00798,"y":1.0021},{"x":0.00818,"y":0.9948},{"x":0.00838,"y":1.0064},{"x":0.00858,"y":0.9989},{"x":0.00878,"y":1.0035},{"x":0.00898,"y":0.9963},{"x":0.00918,"y":1.0011},{"x":0.00938,"y":0.9941},{"x":0.00958,"y":1.0028},{"x":0.00978,"y":0.9962},{"x":0.00998,"y":1.0018}],
"e":[{"x":0.00005,"y":1},{"x":0.0001,"y":1.00005},{"x":0.00015,"y":0.99995},{"x":0.0002,"y":1.0001},{"x":0.0003,"y":0.9999},{"x":0.00035,"y":1.00005},{"x":0.0004,"y":0.99985},{"x":0.0005,"y":1.00015},{"x":0.00055,"y":0.9999},{"x":0.0006,"y":1.0002},{"x":0.0007,"y":0.9998},{"x":0.00075,"y":1.0001},{"x":0.0008,"y":1.00025},{"x":0.0009,"y":0.99975},{"x":0.00095,"y":1.00005},{"x":0.001,"y":1.0003},{"x":0.0011,"y":0.9997},{"x":0.00115,"y":1.00015},{"x":0.0012,"y":0.99995},{"x":0.0013,"y":1.00035},{"x":0.00135,"y":0.99965},{"x":0.0014,"y":1.0002},{"x":0.0015,"y":0.9996},{"x":0.00155,"y":1.0004},{"x":0.0016,"y":0.99985},{"x":0.0017,"y":1.0003},{"x":0.00175,"y":0.99955},{"x":0.0018,"y":1.0001},{"x":0.0019,"y":1.00045},{"x":0.00195,"y":0.9997},{"x":0.002,"y":1.00025},{"x":0.0021,"y":0.9995},{"x":0.00215,"y":1.0005},{"x":0.0022,"y":0.9999},{"x":0.0023,"y":1.00035},{"x":0.00235,"y":0.9996},{"x":0.00245,"y":1.00055},{"x":0.00255,"y":0.9994},{"x":0.0026,"y":1.0002},{"x":0.0027,"y":1.0012},{"x":0.00275,"y":0.9997},{"x":0.00285,"y":0.9988},{"x":0.0029,"y":1.0006},{"x":0.003,"y":0.9992},{"x":0.00305,"y":1.0012},{"x":0.00315,"y":1.0001},{"x":0.0032,"y":0.9995},{"x":0.0033,"y":1.0009},{"x":0.0034,"y":0.9986},{"x":0.00345,"y":1.0018},{"x":0.0035,"y":0.9998},{"x":0.0036,"y":1.0005},{"x":0.0037,"y":0.999},{"x":0.00375,"y":1.0014},{"x":0.00385,"y":1.0002},{"x":0.0039,"y":0.9994},{"x":0.004,"y":1.0019},{"x":0.00405,"y":0.9985},{"x":0.00415,"y":1.0008},{"x":0.0042,"y":0.9997},{"x":0.0043,"y":1.0012},{"x":0.0044,"y":0.9989},{"x":0.0045,"y":1.0022},{"x":0.00455,"y":1},{"x":0.00465,"y":0.9992},{"x":0.0047,"y":1.0015},{"x":0.0048,"y":0.9977},{"x":0.00485,"y":1.0007},{"x":0.00495,"y":0.9996},{"x":0.00505,"y":1.0016},{"x":0.0051,"y":0.9988},{"x":0.0052,"y":1.0021},{"x":0.00525,"y":1.0003},{"x":0.00535,"y":0.9979},{"x":0.0054,"y":1.001},{"x":0.0055,"y":0.9993},{"x":0.0056,"y":1.0018},{"x":0.00565,"y":0.9984},{"x":0.00575,"y":1.0005},{"x":0.0058,"y":1.0025},{"x":0.00585,"y":0.9998},{"x":0.00595,"y":0.9978},{"x":0.006,"y":1.0012},{"x":0.0061,"y":0.999},{"x":0.0062,"y":1.0021},{"x":0.00625,"y":0.9972},{"x":0.00635,"y":1.0008},{"x":0.0064,"y":0.9995},{"x":0.0065,"y":1.0027},{"x":0.00655,"y":0.9982},{"x":0.0066,"y":1.0003},{"x":0.0067,"y":1.0016},{"x":0.00675,"y":0.9971},{"x":0.00685,"y":1.0009},{"x":0.0069,"y":0.9992},{"x":0.007,"y":1.0026},{"x":0.0071,"y":0.9984},{"x":0.00715,"y":1.0004},{"x":0.00725,"y":1.0019},{"x":0.0073,"y":0.9973},{"x":0.0074,"y":1.0001},{"x":0.00745,"y":1.003},{"x":0.00755,"y":0.9987},{"x":0.0076,"y":1.0012},{"x":0.0077,"y":0.9955},{"x":0.00775,"y":1.0024},{"x":0.0078,"y":0.9995},{"x":0.0079,"y":1.0016},{"x":0.00795,"y":0.9976},{"x":0.00805,"y":1.0028},{"x":0.0081,"y":1.0004},{"x":0.0082,"y":0.997},{"x":0.0083,"y":1.0019},{"x":0.00835,"y":0.999},{"x":0.00845,"y":1.0034},{"x":0.0085,"y":0.9968},{"x":0.00855,"y":1.0049},{"x":0.0086,"y":1.0006},{"x":0.0087,"y":0.9979},{"x":0.0088,"y":1.003},{"x":0.00885,"y":0.9942},{"x":0.0089,"y":1.0012},{"x":0.009,"y":0.9985},{"x":0.00905,"y":1.0043},{"x":0.0091,"y":0.9972},{"x":0.00915,"y":1.0009},{"x":0.00925,"y":1.0035},{"x":0.0093,"y":0.9959},{"x":0.00935,"y":1.0058},{"x":0.00945,"y":0.9988},{"x":0.0095,"y":1.002},{"x":0.00955,"y":0.9967},{"x":0.0096,"y":1.0007},{"x":0.00965,"y":1.0034},{"x":0.0097,"y":0.9952},{"x":0.00975,"y":1.0014},{"x":0.0098,"y":0.9978},{"x":0.00985,"y":1.0027},{"x":0.0099,"y":0.9993},{"x":0.00995,"y":0.9956},{"x":0.01,"y":1.0025},{"x":0.01,"y":0.9987},{"x":0.0099,"y":1.0009},{"x":0.00008,"y":1.00005},{"x":0.00018,"y":0.99995},{"x":0.00028,"y":1.00008},{"x":0.00038,"y":0.99992},{"x":0.00048,"y":1.0001},{"x":0.00058,"y":0.9999},{"x":0.00068,"y":1.00015},{"x":0.00078,"y":0.99985},{"x":0.00088,"y":1.0001},{"x":0.00098,"y":0.9998},{"x":0.00108,"y":1.0002},{"x":0.00118,"y":0.99975},{"x":0.00128,"y":1.00025},{"x":0.00138,"y":0.9998},{"x":0.00148,"y":1.0003},{"x":0.00158,"y":0.9997},{"x":0.00168,"y":1.00015},{"x":0.00178,"y":0.9997},{"x":0.00188,"y":1.0003},{"x":0.00198,"y":0.99965},{"x":0.00208,"y":1.0004},{"x":0.00218,"y":0.9997},{"x":0.00228,"y":1.0002},{"x":0.00238,"y":0.99955},{"x":0.00248,"y":1.0003},{"x":0.00258,"y":1.0006},{"x":0.00268,"y":0.9993},{"x":0.00278,"y":1.0004},{"x":0.00288,"y":0.9996},{"x":0.00298,"y":1.0008},{"x":0.00308,"y":0.9991},{"x":0.00318,"y":1.0005},{"x":0.00328,"y":0.9996},{"x":0.00338,"y":1.0011},{"x":0.00348,"y":0.9993},{"x":0.00358,"y":1.0013},{"x":0.00368,"y":0.9997},{"x":0.00378,"y":1.0006},{"x":0.00388,"y":0.9989},{"x":0.00398,"y":1.0003},{"x":0.00418,"y":1.0016},{"x":0.00438,"y":0.9994},{"x":0.00458,"y":1.0008},{"x":0.00478,"y":0.9988},{"x":0.00498,"y":1.0012},{"x":0.00518,"y":0.9997},{"x":0.00538,"y":1.0005},{"x":0.00558,"y":0.9989},{"x":0.00578,"y":1.0014},{"x":0.00598,"y":0.9995},{"x":0.00618,"y":1.0003},{"x":0.00638,"y":0.9985},{"x":0.00658,"y":1.001},{"x":0.00678,"y":0.9994},{"x":0.00698,"y":1.0018},{"x":0.00718,"y":0.9991},{"x":0.00738,"y":1.0007},{"x":0.00758,"y":0.998},{"x":0.00778,"y":1.0013},{"x":0.00798,"y":0.9992},{"x":0.00818,"y":1.0009},{"x":0.00838,"y":0.9984},{"x":0.00858,"y":1.0016},{"x":0.00878,"y":0.9994},{"x":0.00898,"y":1.0023},{"x":0.00918,"y":0.9981},{"x":0.00938,"y":1.0011},{"x":0.00958,"y":0.9988},{"x":0.00978,"y":1.0004},{"x":0.00998,"y":0.9985}],
"f":[{"x":0.00005,"y":1.0},{"x":0.0001,"y":0.96},{"x":0.00015,"y":1.05},{"x":0.0002,"y":0.93},{"x":0.00025,"y":1.1},{"x":0.0003,"y":0.98},{"x":0.00035,"y":1.15},{"x":0.0004,"y":0.9},{"x":0.00045,"y":1.04},{"x":0.0005,"y":0.85},{"x":0.00055,"y":1.12},{"x":0.0006,"y":0.95},{"x":0.00065,"y":1.07},{"x":0.0007,"y":0.8},{"x":0.00075,"y":1.56},{"x":0.0008,"y":1.0},{"x":0.00085,"y":0.73},{"x":0.0009,"y":1.2},{"x":0.00095,"y":0.88},{"x":0.001,"y":1.3},{"x":0.00105,"y":0.62},{"x":0.0011,"y":1.08},{"x":0.00115,"y":0.78},{"x":0.0012,"y":1.38},{"x":0.00125,"y":0.58},{"x":0.0013,"y":1.15},{"x":0.00135,"y":1.86},{"x":0.0014,"y":0.7},{"x":0.00145,"y":1.25},{"x":0.0015,"y":0.95},{"x":0.00155,"y":1.98},{"x":0.0016,"y":0.55},{"x":0.00165,"y":1.18},{"x":0.0017,"y":0.78},{"x":0.00175,"y":0.48},{"x":0.0018,"y":1.7},{"x":0.00185,"y":0.72},{"x":0.0019,"y":2.76},{"x":0.00195,"y":1.0},{"x":0.002,"y":0.62},{"x":0.00205,"y":2.44},{"x":0.0021,"y":1.2},{"x":0.00215,"y":0.8},{"x":0.0022,"y":2.6},{"x":0.00225,"y":0.5},{"x":0.0023,"y":1.4},{"x":0.00235,"y":3.34},{"x":0.0024,"y":0.95},{"x":0.00245,"y":2.16},{"x":0.0025,"y":3.64},{"x":0.00255,"y":1.22},{"x":0.0026,"y":0.58},{"x":0.0027,"y":3.71},{"x":0.00275,"y":1.55},{"x":0.0028,"y":0.5},{"x":0.0029,"y":2.32},{"x":0.00295,"y":1.65},{"x":0.003,"y":0.55},{"x":0.0031,"y":1.48},{"x":0.00315,"y":0.45},{"x":0.00325,"y":1.62},{"x":0.0033,"y":2.24},{"x":0.00334,"y":2.38},{"x":0.00338,"y":2.08},{"x":0.00342,"y":2.62},{"x":0.00347,"y":3.86},{"x":0.0035,"y":0.75},{"x":0.00355,"y":1.3},{"x":0.0036,"y":0.48},{"x":0.00365,"y":1.12},{"x":0.0037,"y":0.62},{"x":0.00375,"y":1.7},{"x":0.0038,"y":0.5},{"x":0.00385,"y":3.34},{"x":0.0039,"y":1.9},{"x":0.00395,"y":0.7},{"x":0.00398,"y":2.67},{"x":0.00404,"y":3.14},{"x":0.0041,"y":1.05},{"x":0.00417,"y":3.86},{"x":0.0042,"y":0.6},{"x":0.0043,"y":1.85},{"x":0.00435,"y":0.45},{"x":0.00445,"y":1.6},{"x":0.00449,"y":2.52},{"x":0.00455,"y":0.8},{"x":0.00459,"y":3.74},{"x":0.00465,"y":1.92},{"x":0.0047,"y":0.5},{"x":0.00475,"y":0.95},{"x":0.00485,"y":0.65},{"x":0.0049,"y":0.35},{"x":0.005,"y":1.78},{"x":0.00505,"y":0.5},{"x":0.0051,"y":2.2},{"x":0.00515,"y":0.28},{"x":0.0052,"y":1.32},{"x":0.00528,"y":2.2},{"x":0.00535,"y":0.7},{"x":0.0054,"y":0.4},{"x":0.0055,"y":0.9},{"x":0.00555,"y":0.25},{"x":0.0056,"y":1.1},{"x":0.0057,"y":0.5},{"x":0.00575,"y":0.8},{"x":0.0058,"y":2.98},{"x":0.00583,"y":2.8},{"x":0.0059,"y":0.35},{"x":0.00595,"y":0.55},{"x":0.00605,"y":0.3},{"x":0.0061,"y":2.1},{"x":0.00615,"y":0.85},{"x":0.0062,"y":0.24},{"x":0.0063,"y":1.7},{"x":0.00635,"y":0.6},{"x":0.0064,"y":0.3},{"x":0.00647,"y":2.04},{"x":0.0065,"y":0.95},{"x":0.00655,"y":1.68},{"x":0.0066,"y":0.4},{"x":0.0067,"y":1.28},{"x":0.00675,"y":0.25},{"x":0.00685,"y":1.08},{"x":0.0069,"y":0.6},{"x":0.00695,"y":0.35},{"x":0.00705,"y":1.64},{"x":0.0071,"y":0.7},{"x":0.00715,"y":0.22},{"x":0.00725,"y":0.45},{"x":0.0073,"y":0.95},{"x":0.0074,"y":0.3},{"x":0.00745,"y":1.48},{"x":0.00755,"y":0.55},{"x":0.0076,"y":0.28},{"x":0.0077,"y":1.4},{"x":0.00775,"y":0.65},{"x":0.00785,"y":0.25},{"x":0.0079,"y":1.22},{"x":0.00795,"y":0.45},{"x":0.00805,"y":0.3},{"x":0.0081,"y":1.2},{"x":0.00815,"y":0.55},{"x":0.00825,"y":0.28},{"x":0.0083,"y":0.7},{"x":0.0084,"y":1.62},{"x":0.00845,"y":0.35},{"x":0.0085,"y":1.0},{"x":0.00853,"y":3.58},{"x":0.0086,"y":0.2},{"x":0.00865,"y":1.5},{"x":0.0087,"y":2.6},{"x":0.00875,"y":0.55},{"x":0.0088,"y":0.3},{"x":0.00885,"y":1.7},{"x":0.00895,"y":0.38},{"x":0.009,"y":0.8},{"x":0.0091,"y":0.25},{"x":0.00915,"y":1.6},{"x":0.0092,"y":0.5},{"x":0.0093,"y":0.7},{"x":0.00935,"y":0.3},{"x":0.0094,"y":1.45},{"x":0.0095,"y":0.4},{"x":0.00955,"y":1.1},{"x":0.0096,"y":0.22},{"x":0.00968,"y":2.48},{"x":0.0097,"y":0.85},{"x":0.00975,"y":0.35},{"x":0.0098,"y":1.05},{"x":0.00985,"y":0.5},{"x":0.0099,"y":0.25},{"x":0.00995,"y":1.38},{"x":0.01,"y":0.3},{"x":0.01,"y":0.5},{"x":0.00995,"y":0.18},{"x":0.00115,"y":1.1},{"x":0.0013,"y":0.9},{"x":0.0016,"y":1.05},{"x":0.0019,"y":0.85},{"x":0.0022,"y":1.1},{"x":0.0024,"y":0.72},{"x":0.0027,"y":0.8},{"x":0.0032,"y":0.9},{"x":0.0037,"y":0.95},{"x":0.0044,"y":0.55},{"x":0.0052,"y":0.6},{"x":0.0061,"y":0.5},{"x":0.0068,"y":0.45},{"x":0.0075,"y":0.35},{"x":0.0082,"y":0.45},{"x":0.0088,"y":0.6},{"x":0.0094,"y":0.3},{"x":0.00008,"y":1.02},{"x":0.00018,"y":0.98},{"x":0.00028,"y":1.06},{"x":0.00038,"y":0.95},{"x":0.00048,"y":1.1},{"x":0.00058,"y":0.9},{"x":0.00068,"y":1.02},{"x":0.00078,"y":0.86},{"x":0.00088,"y":1.12},{"x":0.00098,"y":0.95},{"x":0.00108,"y":1.18},{"x":0.00118,"y":0.82},{"x":0.00128,"y":1.05},{"x":0.00138,"y":0.68},{"x":0.00148,"y":1.12},{"x":0.00158,"y":0.85},{"x":0.00168,"y":1.22},{"x":0.00178,"y":0.65},{"x":0.00188,"y":1.15},{"x":0.00198,"y":0.75},{"x":0.00208,"y":1.25},{"x":0.00218,"y":0.6},{"x":0.00228,"y":0.98},{"x":0.00238,"y":1.18},{"x":0.00248,"y":0.52},{"x":0.00258,"y":0.9},{"x":0.00268,"y":0.6},{"x":0.00278,"y":1.05},{"x":0.00288,"y":0.75},{"x":0.00298,"y":1.25},{"x":0.00308,"y":0.5},{"x":0.00318,"y":1.0},{"x":0.00328,"y":0.6},{"x":0.00338,"y":0.85},{"x":0.00348,"y":0.55},{"x":0.00358,"y":1.2},{"x":0.00368,"y":0.45},{"x":0.00378,"y":0.9},{"x":0.00388,"y":0.6},{"x":0.00398,"y":1.15},{"x":0.00418,"y":0.55},{"x":0.00438,"y":0.9},{"x":0.00458,"y":0.45},{"x":0.00478,"y":1.3},{"x":0.00498,"y":0.6},{"x":0.00518,"y":0.4},{"x":0.00538,"y":1.05},{"x":0.00558,"y":0.5},{"x":0.00578,"y":0.3},{"x":0.00598,"y":0.75},{"x":0.00618,"y":0.4},{"x":0.00638,"y":1.05},{"x":0.00658,"y":0.3},{"x":0.00678,"y":0.6},{"x":0.00698,"y":0.28},{"x":0.00718,"y":0.9},{"x":0.00738,"y":0.4},{"x":0.00758,"y":0.75},{"x":0.00778,"y":0.3},{"x":0.00798,"y":0.6},{"x":0.00818,"y":0.35},{"x":0.00838,"y":0.85},{"x":0.00858,"y":0.28},{"x":0.00878,"y":0.5},{"x":0.00898,"y":0.3},{"x":0.00918,"y":0.65},{"x":0.00938,"y":0.35},{"x":0.00958,"y":0.55},{"x":0.00978,"y":0.28},{"x":0.00998,"y":0.4}]
},
"spacing":16,
"vconcat":[
{"spacing":43,"hconcat":[
{"title":{"text":"(a)","fontWeight":"bold","anchor":"start","frame":"bounds","dx":81,"dy":-22,"offset":0},
 "vconcat":[{"width":287,"height":167,
 "title":{"text":"KBi₂F₇ BEC","anchor":"start","frame":"bounds","dx":129,"offset":23},
 "encoding":{"x":{"field":"x","type":"quantitative","scale":{"domain":[-0.001,0.011],"nice":false,"zero":false},"axis":{"values":[0,0.0025,0.005,0.0075,0.01],"labelExpr":"datum.value == 0 ? '0' : (abs(datum.value - 0.01) < 1e-9 ? '0.01' : '')","title":"Disorder Parameter (σ)","labelOverlap":false,"labelFlush":false}},
  "y":{"field":"y","type":"quantitative","scale":{"domain":[0.99,1.01],"nice":false,"zero":false},"axis":{"values":[0.99,1.0,1.01],"format":".2f","title":"Δ % |eᵢⱼ|","labelOverlap":false}}},
 "layer":[
  {"data":{"name":"a"},"mark":{"type":"point","shape":"M-1,-1L1,1M1,-1L-1,1","color":"#0000ff","filled":false,"opacity":1,"size":28,"strokeWidth":1.3,"clip":true}},
  {"data":{"name":"ref"},"mark":{"type":"point","shape":"M-1,-1L1,1M1,-1L-1,1","color":"#ff0000","filled":false,"opacity":1,"size":28,"strokeWidth":1.3}}
 ]}]},
{"title":{"text":"(b)","fontWeight":"bold","anchor":"start","frame":"bounds","dx":85,"dy":-22,"offset":0},
 "vconcat":[{"width":287,"height":167,
 "title":{"text":"KBi₂F₇ IST","anchor":"start","frame":"bounds","dx":133,"offset":23},
 "encoding":{"x":{"field":"x","type":"quantitative","scale":{"domain":[-0.001,0.011],"nice":false,"zero":false},"axis":{"values":[0,0.0025,0.005,0.0075,0.01],"labelExpr":"datum.value == 0 ? '0' : (abs(datum.value - 0.01) < 1e-9 ? '0.01' : '')","title":"Disorder Parameter (σ)","labelOverlap":false,"labelFlush":false}},
  "y":{"field":"y","type":"quantitative","scale":{"domain":[0.99,1.01],"nice":false,"zero":false},"axis":{"values":[0.99,1.0,1.01],"format":".2f","title":"Δ % |eᵢⱼ|","labelOverlap":false}}},
 "layer":[
  {"data":{"name":"b"},"mark":{"type":"point","shape":"M-1,-1L1,1M1,-1L-1,1","color":"#0000ff","filled":false,"opacity":1,"size":28,"strokeWidth":1.3,"clip":true}},
  {"data":{"name":"ref"},"mark":{"type":"point","shape":"M-1,-1L1,1M1,-1L-1,1","color":"#ff0000","filled":false,"opacity":1,"size":28,"strokeWidth":1.3}}
 ]}]},
{"title":{"text":"(c)","fontWeight":"bold","anchor":"start","frame":"bounds","dx":60,"dy":-22,"offset":0},
 "vconcat":[{"width":296,"height":167,
 "title":{"text":"KBi₂F₇ FCM","anchor":"start","frame":"bounds","dx":108,"offset":23},
 "encoding":{"x":{"field":"x","type":"quantitative","scale":{"domain":[-0.001,0.011],"nice":false,"zero":false},"axis":{"values":[0,0.0025,0.005,0.0075,0.01],"labelExpr":"datum.value == 0 ? '0' : (abs(datum.value - 0.01) < 1e-9 ? '0.01' : '')","title":"Disorder Parameter (σ)","labelOverlap":false,"labelFlush":false}},
  "y":{"field":"y","type":"quantitative","scale":{"domain":[0,2],"nice":false,"zero":false},"axis":{"values":[0,0.5,1,1.5,2],"format":".1f","title":"Δ % |eᵢⱼ|","labelOverlap":false}}},
 "layer":[
  {"data":{"name":"c"},"mark":{"type":"point","shape":"M-1,-1L1,1M1,-1L-1,1","color":"#0000ff","filled":false,"opacity":1,"size":28,"strokeWidth":1.3,"clip":true}},
  {"data":{"name":"ref"},"mark":{"type":"point","shape":"M-1,-1L1,1M1,-1L-1,1","color":"#ff0000","filled":false,"opacity":1,"size":28,"strokeWidth":1.3}}
 ]}]}
]},
{"spacing":43,"hconcat":[
{"title":{"text":"(d)","fontWeight":"bold","anchor":"start","frame":"bounds","dx":79,"dy":-22,"offset":0},
 "vconcat":[{"width":287,"height":167,
 "title":{"text":"Pr₃NF₆ BEC","anchor":"start","frame":"bounds","dx":127,"offset":23},
 "encoding":{"x":{"field":"x","type":"quantitative","scale":{"domain":[-0.001,0.011],"nice":false,"zero":false},"axis":{"values":[0,0.0025,0.005,0.0075,0.01],"labelExpr":"datum.value == 0 ? '0' : (abs(datum.value - 0.01) < 1e-9 ? '0.01' : '')","title":"Disorder Parameter (σ)","labelOverlap":false,"labelFlush":false}},
  "y":{"field":"y","type":"quantitative","scale":{"domain":[0.99,1.01],"nice":false,"zero":false},"axis":{"values":[0.99,1.0,1.01],"format":".2f","title":"Δ % |eᵢⱼ|","labelOverlap":false}}},
 "layer":[
  {"data":{"name":"d"},"mark":{"type":"point","shape":"M-1,-1L1,1M1,-1L-1,1","color":"#0000ff","filled":false,"opacity":1,"size":28,"strokeWidth":1.3,"clip":true}},
  {"data":{"name":"ref"},"mark":{"type":"point","shape":"M-1,-1L1,1M1,-1L-1,1","color":"#ff0000","filled":false,"opacity":1,"size":28,"strokeWidth":1.3}}
 ]}]},
{"title":{"text":"(e)","fontWeight":"bold","anchor":"start","frame":"bounds","dx":84,"dy":-22,"offset":0},
 "vconcat":[{"width":287,"height":167,
 "title":{"text":"Pr₃NF₆ IST","anchor":"start","frame":"bounds","dx":132,"offset":23},
 "encoding":{"x":{"field":"x","type":"quantitative","scale":{"domain":[-0.001,0.011],"nice":false,"zero":false},"axis":{"values":[0,0.0025,0.005,0.0075,0.01],"labelExpr":"datum.value == 0 ? '0' : (abs(datum.value - 0.01) < 1e-9 ? '0.01' : '')","title":"Disorder Parameter (σ)","labelOverlap":false,"labelFlush":false}},
  "y":{"field":"y","type":"quantitative","scale":{"domain":[0.99,1.01],"nice":false,"zero":false},"axis":{"values":[0.99,1.0,1.01],"format":".2f","title":"Δ % |eᵢⱼ|","labelOverlap":false}}},
 "layer":[
  {"data":{"name":"e"},"mark":{"type":"point","shape":"M-1,-1L1,1M1,-1L-1,1","color":"#0000ff","filled":false,"opacity":1,"size":28,"strokeWidth":1.3,"clip":true}},
  {"data":{"name":"ref"},"mark":{"type":"point","shape":"M-1,-1L1,1M1,-1L-1,1","color":"#ff0000","filled":false,"opacity":1,"size":28,"strokeWidth":1.3}}
 ]}]},
{"title":{"text":"(f)","fontWeight":"bold","anchor":"start","frame":"bounds","dx":69,"dy":-22,"offset":0},
 "vconcat":[{"width":313,"height":167,
 "title":{"text":"Pr₃NF₆ FCM","anchor":"start","frame":"bounds","dx":117,"offset":23},
 "encoding":{"x":{"field":"x","type":"quantitative","scale":{"domain":[-0.001,0.011],"nice":false,"zero":false},"axis":{"values":[0,0.0025,0.005,0.0075,0.01],"labelExpr":"datum.value == 0 ? '0' : (abs(datum.value - 0.01) < 1e-9 ? '0.01' : '')","title":"Disorder Parameter (σ)","labelOverlap":false,"labelFlush":false}},
  "y":{"field":"y","type":"quantitative","scale":{"domain":[0,4],"nice":false,"zero":false},"axis":{"values":[0,1,2,3,4],"format":"d","title":"Δ % |eᵢⱼ|","labelOverlap":false}}},
 "layer":[
  {"data":{"name":"f"},"mark":{"type":"point","shape":"M-1,-1L1,1M1,-1L-1,1","color":"#0000ff","filled":false,"opacity":1,"size":28,"strokeWidth":1.3,"clip":true}},
  {"data":{"name":"ref"},"mark":{"type":"point","shape":"M-1,-1L1,1M1,-1L-1,1","color":"#ff0000","filled":false,"opacity":1,"size":28,"strokeWidth":1.3}}
 ]}]}
]}
]
}
